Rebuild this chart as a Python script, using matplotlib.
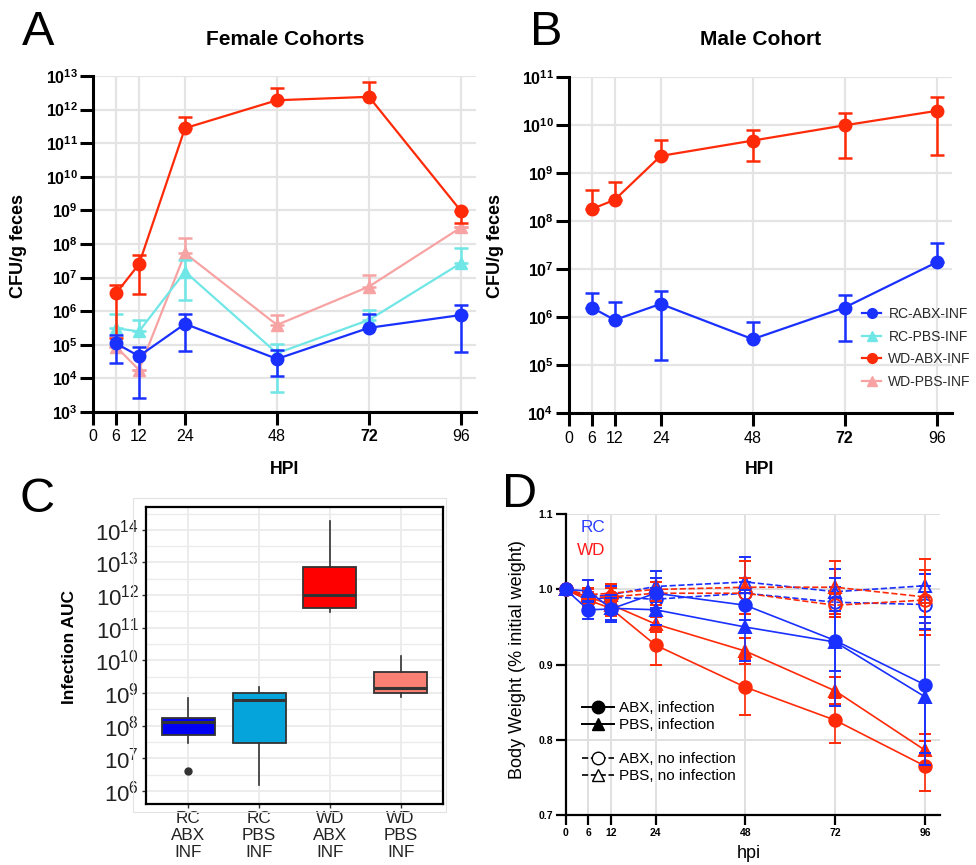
import numpy as np
import matplotlib
matplotlib.use('Agg')
import matplotlib.pyplot as plt
from matplotlib.lines import Line2D
from matplotlib.patches import Rectangle
from matplotlib.ticker import NullLocator, FixedLocator

plt.rcParams['font.family'] = ['Liberation Sans', 'DejaVu Sans']
plt.rcParams['mathtext.fontset'] = 'custom'
plt.rcParams['mathtext.rm'] = 'Liberation Sans'
plt.rcParams['mathtext.bf'] = 'Liberation Sans:bold'
plt.rcParams['mathtext.it'] = 'Liberation Sans:italic'

# ---- data ----
hpi_ticks = [0, 6, 12, 24, 48, 72, 96]
hpi = [6, 12, 24, 48, 72, 96]

# female cohorts (CFU/g feces): mean, lower bar end, upper bar end
rc_abx_f = [1.1e5, 4.6e4, 4.2e5, 3.8e4, 3.2e5, 7.7e5]
rc_abx_f_lo = [2.9e4, 2.7e3, 6.6e4, 1.2e4, 3.2e5, 5.9e4]
rc_abx_f_hi = [1.95e5, 8.7e4, 8.1e5, 7.1e4, 8.3e5, 1.5e6]
rc_pbs_f = [3.1e5, 2.5e5, 1.5e7, 5.6e4, 5.5e5, 2.7e7]
rc_pbs_f_lo = [3.1e5, 2.5e5, 2.2e6, 4.0e3, 5.5e5, 2.7e7]
rc_pbs_f_hi = [8.3e5, 5.5e5, 3.3e7, 1.05e5, 1.1e6, 7.4e7]
wd_abx_f = [3.4e6, 2.5e7, 2.8e11, 1.9e12, 2.4e12, 9.6e8]
wd_abx_f_lo = [1.6e5, 3.3e6, 2.8e11, 1.9e12, 2.4e12, 4.2e8]
wd_abx_f_hi = [6.0e6, 4.6e7, 6.2e11, 4.5e12, 6.8e12, 9.6e8]
wd_pbs_f = [8.8e4, 1.8e4, 5.3e7, 3.9e5, 5.4e6, 3.1e8]
wd_pbs_f_lo = [8.8e4, 1.8e4, 5.3e7, 3.9e5, 5.4e6, 3.1e8]
wd_pbs_f_hi = [8.8e4, 1.8e4, 1.5e8, 7.8e5, 1.2e7, 3.1e8]

# male cohort
rc_abx_m = [1.6e6, 8.8e5, 1.9e6, 3.5e5, 1.6e6, 1.4e7]
rc_abx_m_lo = [1.6e6, 8.8e5, 1.3e5, 3.5e5, 3.2e5, 1.4e7]
rc_abx_m_hi = [3.2e6, 2.1e6, 3.5e6, 8.1e5, 2.9e6, 3.6e7]
wd_abx_m = [1.8e8, 2.8e8, 2.3e9, 4.8e9, 1.0e10, 2.0e10]
wd_abx_m_lo = [1.8e8, 2.8e8, 2.3e9, 1.8e9, 2.1e9, 2.4e9]
wd_abx_m_hi = [4.4e8, 6.6e8, 4.9e9, 7.9e9, 1.8e10, 3.8e10]

group_names = ['RC-ABX-INF', 'RC-PBS-INF', 'WD-ABX-INF', 'WD-PBS-INF']

# infection AUC box summaries
auc_labels = ['RC\nABX\nINF', 'RC\nPBS\nINF', 'WD\nABX\nINF', 'WD\nPBS\nINF']
auc_whislo = [2.9e7, 1.5e6, 3.0e11, 7.8e8]
auc_q1 = [5.2e7, 3.0e7, 4.0e11, 1.0e9]
auc_med = [1.26e8, 6.2e8, 1.0e12, 1.4e9]
auc_q3 = [1.7e8, 9.8e8, 7.4e12, 4.5e9]
auc_whishi = [6.9e8, 1.5e9, 1.9e14, 1.4e10]
auc_fliers = [[4.0e6], [], [], []]

# body weight (fraction of initial), mean and SD
bw_hpi = [0, 6, 12, 24, 48, 72, 96]
rc_abx_inf = [1.0, 0.973, 0.974, 0.995, 0.979, 0.932, 0.873]
rc_abx_inf_sd = [0, 0.012, 0.015, 0.02, 0.02, 0.04, 0.09]
rc_pbs_inf = [1.0, 0.998, 0.975, 0.973, 0.950, 0.930, 0.857]
rc_pbs_inf_sd = [0, 0.015, 0.018, 0.02, 0.045, 0.085, 0.09]
rc_abx_no = [1.0, 0.986, 0.99, 0.987, 0.995, 0.983, 0.980]
rc_abx_no_sd = [0, 0.01, 0.012, 0.015, 0.015, 0.02, 0.025]
rc_pbs_no = [1.0, 0.99, 0.993, 1.004, 1.01, 0.997, 1.005]
rc_pbs_no_sd = [0, 0.012, 0.012, 0.02, 0.033, 0.03, 0.015]
wd_abx_inf = [1.0, 0.986, 0.975, 0.926, 0.870, 0.826, 0.765]
wd_abx_inf_sd = [0, 0.01, 0.01, 0.027, 0.037, 0.03, 0.033]
wd_pbs_inf = [1.0, 0.99, 0.98, 0.954, 0.918, 0.865, 0.786]
wd_pbs_inf_sd = [0, 0.01, 0.01, 0.01, 0.017, 0.018, 0.022]
wd_abx_no = [1.0, 0.99, 0.99, 0.995, 0.995, 0.979, 0.986]
wd_abx_no_sd = [0, 0.012, 0.012, 0.015, 0.02, 0.015, 0.04]
wd_pbs_no = [1.0, 0.993, 0.995, 1.0, 1.003, 1.003, 0.99]
wd_pbs_no_sd = [0, 0.02, 0.012, 0.015, 0.035, 0.035, 0.05]

# ---- styles ----
BLUE = '#1A30FF'
CYAN = '#70E6E6'
RED = '#FF2A08'
PINK = '#F7A3A3'
group_colors = [BLUE, CYAN, RED, PINK]
group_markers = ['o', '^', 'o', '^']
box_colors = ['#0000F5', '#05A5DC', '#FF0000', '#F98072']


def fx(px):
    return px / 976


def fy(py):
    return 1 - py / 865


fig = plt.figure(figsize=(9.76, 8.65), dpi=100)
axA = fig.add_axes([fx(93), fy(412), 383.3 / 976, 336 / 865])
axB = fig.add_axes([fx(568.7), fy(413.3), 383.3 / 976, 336 / 865])
axC = fig.add_axes([fx(146), fy(804), 297 / 976, 297 / 865])
axD = fig.add_axes([fx(565.7), fy(815), 374.5 / 976, 300.7 / 865])


def cfu_axis(ax, lo_exp, hi_exp):
    ax.set_yscale('log')
    ax.set_ylim(10.0 ** lo_exp, 10.0 ** hi_exp)
    ax.set_xlim(0, 100)
    exps = list(range(lo_exp, hi_exp + 1))
    ax.set_yticks([10.0 ** e for e in exps])
    ax.set_yticklabels([r'$\mathbf{10^{%d}}$' % e for e in exps])
    ax.yaxis.set_minor_locator(NullLocator())
    ax.set_xticks(hpi_ticks)
    labs = ax.set_xticklabels([str(t) for t in hpi_ticks], fontsize=11.5)
    labs[5].set_fontweight('bold')
    ax.grid(True, color='#E4E4E4', lw=1.6)
    ax.set_axisbelow(True)
    for s in ['top', 'right']:
        ax.spines[s].set_visible(False)
    for s in ['left', 'bottom']:
        ax.spines[s].set_linewidth(2.2)
    ax.tick_params(length=9.4, width=2.2, direction='out')
    ax.tick_params(axis='x', pad=3)
    ax.tick_params(axis='y', pad=1.5, labelsize=11.5)


def cfu_series(ax, y, lo, hi, color, marker, z):
    y = np.array(y)
    err = [y - np.array(lo), np.array(hi) - y]
    ax.errorbar(hpi, y, yerr=err, color=color, marker=marker, ms=9, lw=1.6,
                elinewidth=1.8, capsize=5, capthick=1.8, zorder=z, clip_on=False)


# ---- A ----
cfu_axis(axA, 3, 13)
cfu_series(axA, wd_pbs_f, wd_pbs_f_lo, wd_pbs_f_hi, PINK, '^', 3)
cfu_series(axA, rc_pbs_f, rc_pbs_f_lo, rc_pbs_f_hi, CYAN, '^', 4)
cfu_series(axA, wd_abx_f, wd_abx_f_lo, wd_abx_f_hi, RED, 'o', 5)
cfu_series(axA, rc_abx_f, rc_abx_f_lo, rc_abx_f_hi, BLUE, 'o', 6)

# ---- B ----
cfu_axis(axB, 4, 11)
cfu_series(axB, wd_abx_m, wd_abx_m_lo, wd_abx_m_hi, RED, 'o', 5)
cfu_series(axB, rc_abx_m, rc_abx_m_lo, rc_abx_m_hi, BLUE, 'o', 6)
handles = [Line2D([], [], color=c, marker=m, ms=7, lw=1.6)
           for c, m in zip(group_colors, group_markers)]
fig.legend(handles, group_names, loc='upper left', bbox_to_anchor=(fx(862), fy(307)),
           frameon=False, fontsize=10, handlelength=1.4, handletextpad=0.5,
           labelspacing=0.62, borderpad=0, borderaxespad=0, labelcolor='#2A2A2A')

for x, title in [(285, 'Female Cohorts'), (761, 'Male Cohort')]:
    fig.text(fx(x), fy(45), title, fontsize=15, fontweight='bold', ha='center', va='baseline')
for x in [285, 760]:
    fig.text(fx(x), fy(474.3), 'HPI', fontsize=12.7, fontweight='bold', ha='center', va='baseline')
for x in [19, 495]:
    fig.text(fx(x), fy(246), 'CFU/g feces', fontsize=13, fontweight='bold', rotation=90,
             ha='center', va='center')

# ---- C ----
axC.set_yscale('log')
stats = []
for i in range(4):
    stats.append(dict(med=auc_med[i], q1=auc_q1[i], q3=auc_q3[i], whislo=auc_whislo[i],
                      whishi=auc_whishi[i], fliers=auc_fliers[i]))
bp = axC.bxp(stats, positions=[1, 2, 3, 4], widths=0.75, patch_artist=True, showcaps=False,
             boxprops=dict(edgecolor='#333333', linewidth=1.3),
             medianprops=dict(color='#333333', linewidth=2.2),
             whiskerprops=dict(color='#333333', linewidth=1.2),
             flierprops=dict(marker='o', markerfacecolor='#333333', markeredgecolor='#333333',
                             markersize=5))
for patch, c in zip(bp['boxes'], box_colors):
    patch.set_facecolor(c)
axC.set_xlim(0.4, 4.6)
axC.set_ylim(10 ** 5.6, 10 ** 14.7)
c_exps = list(range(6, 15))
axC.set_yticks([10.0 ** e for e in c_exps])
axC.set_yticklabels([r'$\mathrm{10^{%d}}$' % e for e in c_exps])
axC.yaxis.set_minor_locator(FixedLocator([10.0 ** (e + 0.5) for e in range(5, 15)]))
axC.set_xticks([1, 2, 3, 4])
axC.set_xticklabels(auc_labels, fontsize=12.3, linespacing=1.15)
axC.grid(True, which='major', color='#EBEBEB', lw=1.3)
axC.grid(True, which='minor', axis='y', color='#EBEBEB', lw=1.0)
axC.set_axisbelow(True)
for s in axC.spines.values():
    s.set_linewidth(1.6)
    s.set_color('black')
axC.tick_params(axis='y', which='major', length=3, width=1, color='#333333', labelsize=16,
                labelcolor='#222222', pad=2)
axC.tick_params(axis='y', which='minor', length=0)
axC.tick_params(axis='x', length=3, width=1, color='#333333', labelcolor='#222222', pad=2)
fig.text(fx(69), fy(646.7), 'Infection AUC', fontsize=12.5, fontweight='bold', rotation=90,
         ha='center', va='center')
fig.patches.append(Rectangle((fx(133), fy(812)), 313 / 976, 314 / 865, transform=fig.transFigure,
                             fill=False, edgecolor='#E2E2E2', lw=0.8))

# ---- D ----
bw_series = [
    (rc_abx_no, rc_abx_no_sd, BLUE, 'o', '--', 'none'),
    (rc_pbs_no, rc_pbs_no_sd, BLUE, '^', '--', 'none'),
    (wd_abx_no, wd_abx_no_sd, RED, 'o', '--', 'none'),
    (wd_pbs_no, wd_pbs_no_sd, RED, '^', '--', 'none'),
    (wd_abx_inf, wd_abx_inf_sd, RED, 'o', '-', RED),
    (wd_pbs_inf, wd_pbs_inf_sd, RED, '^', '-', RED),
    (rc_pbs_inf, rc_pbs_inf_sd, BLUE, '^', '-', BLUE),
    (rc_abx_inf, rc_abx_inf_sd, BLUE, 'o', '-', BLUE),
]
for i, (y, sd, c, m, ls, mfc) in enumerate(bw_series):
    axD.errorbar(bw_hpi, y, yerr=sd, color=c, marker=m, ls=ls, mfc=mfc, mec=c, ms=9,
                 mew=1.4, lw=1.2, elinewidth=1.2, capsize=4.5, capthick=1.2, zorder=3 + i,
                 clip_on=False)
axD.set_xlim(0, 100)
axD.set_ylim(0.7, 1.1)
axD.set_xticks(hpi_ticks)
axD.set_yticks([0.7, 0.8, 0.9, 1.0, 1.1])
axD.set_yticklabels(['0.7', '0.8', '0.9', '1.0', '1.1'])
axD.grid(True, color='#E0E0E0', lw=1.4)
axD.set_axisbelow(True)
for s in ['top', 'right']:
    axD.spines[s].set_visible(False)
for s in ['left', 'bottom']:
    axD.spines[s].set_linewidth(1.6)
axD.tick_params(length=7, width=1.6, labelsize=7.5, pad=2)
for lab in axD.get_xticklabels() + axD.get_yticklabels():
    lab.set_fontweight('bold')
fig.text(fx(605), fy(531.7), 'RC', color='#2B3BFF', fontsize=12.3, ha='right', va='baseline')
fig.text(fx(605), fy(555), 'WD', color='#FF1A1A', fontsize=12.3, ha='right', va='baseline')
fig.text(fx(749), fy(857.7), 'hpi', fontsize=13, ha='center', va='baseline')
fig.text(fx(518), fy(660), 'Body Weight (% initial weight)', fontsize=13, rotation=90,
         ha='center', va='center')

d_handles = [
    Line2D([], [], color='black', marker='o', ms=9, lw=1.4),
    Line2D([], [], color='black', marker='^', ms=9, lw=1.4),
    Line2D([], [], ls='none'),
    Line2D([], [], color='black', marker='o', ms=9, lw=1.2, ls='--', mfc='white'),
    Line2D([], [], color='black', marker='^', ms=9, lw=1.2, ls='--', mfc='white'),
]
d_labels = ['ABX, infection', 'PBS, infection', ' ', 'ABX, no infection', 'PBS, no infection']
fig.legend(d_handles, d_labels, loc='upper left', bbox_to_anchor=(fx(582), fy(701)),
           frameon=False, fontsize=11, handlelength=2.1, handletextpad=0.35,
           labelspacing=0.2, borderpad=0, borderaxespad=0)

# panel letters
for x, y, letter in [(22, 45, 'A'), (530, 45, 'B'), (20, 511.7, 'C'), (502, 506.7, 'D')]:
    fig.text(fx(x), fy(y), letter, fontsize=35, ha='left', va='baseline')

fig.savefig('out.png', dpi=100)
